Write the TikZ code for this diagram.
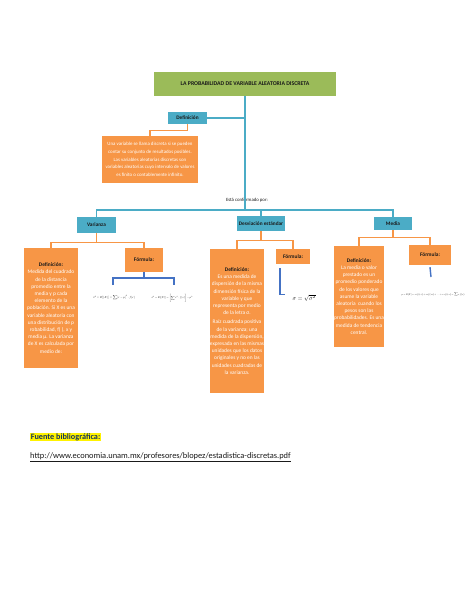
\documentclass[tikz,border=0pt]{standalone}
\usepackage{fontspec}
\usepackage{amsmath}
\usepackage{amssymb}
\usepackage{graphicx}
\setmainfont{Carlito}
\definecolor{cverde}{HTML}{9BBB59}
\definecolor{cazul}{HTML}{4BACC6}
\definecolor{cnaranja}{HTML}{F79646}
\definecolor{cazulosc}{HTML}{4472C4}
\definecolor{ctexto}{HTML}{1A1A1A}
\definecolor{cfuente}{HTML}{17365D}
\tikzset{
  cajaazul/.style={fill=cazul, inner sep=0pt, text=ctexto, font=\bfseries\fontsize{5.3}{6}\selectfont},
  cajanaranja/.style={fill=cnaranja, inner sep=0pt, text=white, align=center, font=\fontsize{5.4}{7.2}\selectfont},
  formula/.style={text=black, inner sep=0pt},
  lineaazul/.style={cazul, line width=1.2pt},
  lineanaranja/.style={cnaranja, line width=1.2pt},
  lineaformula/.style={cazulosc, line width=1.4pt}
}
\newcommand{\cabeza}[1]{{\color{ctexto}\bfseries #1}}
\begin{document}
\begin{tikzpicture}[x=1pt,y=-1pt]
\useasboundingbox[fill=white] (0,0) rectangle (474,613);
% titulo y definicion
\node[fill=cverde, minimum width=182pt, minimum height=24pt, inner sep=0pt, text=ctexto, font=\bfseries\fontsize{5.8}{7}\selectfont] (tit) at (245,84) {LA PROBABILIDAD DE VARIABLE ALEATORIA DISCRETA};
\node[cajaazul, minimum width=39pt, minimum height=12pt] (defi) at (187.5,118) {Definición};
\node[cajanaranja, minimum width=96pt, minimum height=47pt, font=\fontsize{4.9}{7.8}\selectfont] (defcaja) at (150,159.5) {Una variable se llama discreta si se pueden\\contar su conjunto de resultados posibles.\\Las variables aleatorias discretas son\\variables aleatorias cuyo intervalo de valores\\es finito o contablemente infinito.};
\node[text=ctexto, font=\fontsize{4.8}{6}\selectfont] (conf) at (247,200) {Está conformado por:};
\coordinate (union) at (245,210);
% ramas
\node[cajaazul, minimum width=39pt, minimum height=16pt] (var) at (96.5,225) {Varianza};
\node[cajaazul, minimum width=48pt, minimum height=15pt] (desv) at (261,223.5) {Desviación estándar};
\node[cajaazul, minimum width=38pt, minimum height=13pt] (media) at (393,223.5) {Media};
\node[cajanaranja, minimum width=54pt, minimum height=120pt] (vardef) at (51,308) {\cabeza{Definición:}\\Medida del cuadrado\\de la distancia\\promedio entre la\\media y p cada\\elemento de la\\población. Si X es una\\variable aleatoria con\\una distribución de p\\robabilidad, f( ), x y\\media µ. La varianza\\de X es calculada por\\medio de:};
\node[cajanaranja, minimum width=38pt, minimum height=24pt] (varfor) at (144,260) {\cabeza{Fórmula:}};
\node[cajanaranja, minimum width=54pt, minimum height=144pt] (desvdef) at (237,321) {\cabeza{Definición:}\\Es una medida de\\dispersión de la misma\\dimensión física de la\\variable y que\\representa por medio\\de la letra σ.\\[2pt]Raíz cuadrada positiva\\de la varianza; una\\medida de la dispersión,\\expresada en las mismas\\unidades que los datos\\originales y no en las\\unidades cuadradas de\\la varianza.};
\node[cajanaranja, minimum width=34pt, minimum height=15pt] (desvfor) at (293,256.5) {\cabeza{Fórmula:}};
\node[cajanaranja, minimum width=50pt, minimum height=101pt] (mediadef) at (359,296.5) {\cabeza{Definición:}\\La media o valor\\prestado es un\\promedio ponderado\\de los valores que\\asume la variable\\aleatoria ~cuando los\\pesos son las\\probabilidades. Es una\\medida de tendencia\\central.};
\node[cajanaranja, minimum width=42pt, minimum height=20pt] (mediafor) at (430,255) {\cabeza{Fórmula:}};
% formulas
\node[formula] (f1) at (114,298) {\resizebox{42pt}{!}{$\sigma^2=E[(X)]=\displaystyle\sum_{}^{}[x-\mu]^2\cdot f(x)$}};
\node[formula] (f2) at (172,298) {\resizebox{41pt}{!}{$\sigma^2=E[(X)]=\left[\displaystyle\sum_{}^{} x^2\cdot f(x)\right]-\mu^2$}};
\node[formula] (f3) at (304,298) {\resizebox{23pt}{!}{$\sigma=\sqrt{\sigma^2}$}};
\node[formula] (f4) at (433,295) {\resizebox{63pt}{!}{$\mu=E[X]=x_1 f(x_1)+x_2 f(x_2)+\dots+x_n f(x_n)=\displaystyle\sum_{}^{} x\, f(x)$}};
% conectores
\draw[lineaazul] (tit.south) -- (union);
\draw[lineaazul] (defi.east) -- (defi.east -| union);
\draw[lineaazul] (var.north) |- (union) -| (media.north);
\draw[lineaazul] (desv.north) -- (desv.north |- union);
\draw[lineanaranja] (defi.south) -- ++(0,6) -| (defcaja.north);
\draw[lineanaranja] (var.south) -- ++(0,9) coordinate (vj);
\draw[lineanaranja] (vardef.north) |- (vj) -| (varfor.north);
\draw[lineanaranja] (desv.south) -- ++(0,9) coordinate (dj);
\draw[lineanaranja] (desvdef.north) |- (dj) -| (desvfor.north);
\draw[lineanaranja] (media.south) -- ++(0,7) coordinate (mj);
\draw[lineanaranja] (mediadef.north) |- (mj) -| (mediafor.north);
\coordinate (fj) at (144,278);
\coordinate (fa) at (113,285);
\coordinate (fb) at (174,285);
\draw[lineaformula] (varfor.south) -- (fj);
\draw[lineaformula] (fa) |- (fj) -| (fb);
\draw[lineaformula] ([xshift=-13pt,yshift=-4pt]desvfor.south) -- ++(0,26) -- ++(5,0);
\coordinate (mf) at (431,277);
\draw[lineaformula] ([yshift=-2pt]mediafor.south) -- (mf);
% fuente
\node[anchor=west, fill=yellow, inner sep=0.6pt, text=cfuente, font=\bfseries\fontsize{8.2}{9}\selectfont] (fuente) at (30,437) {Fuente bibliográfica:};
\node[anchor=west, inner sep=0pt, text=ctexto, font=\fontsize{8.4}{9}\selectfont] (url) at (30,457) {\underline{http://www.economia.unam.mx/profesores/blopez/estadistica-discretas.pdf}};
\end{tikzpicture}
\end{document}
